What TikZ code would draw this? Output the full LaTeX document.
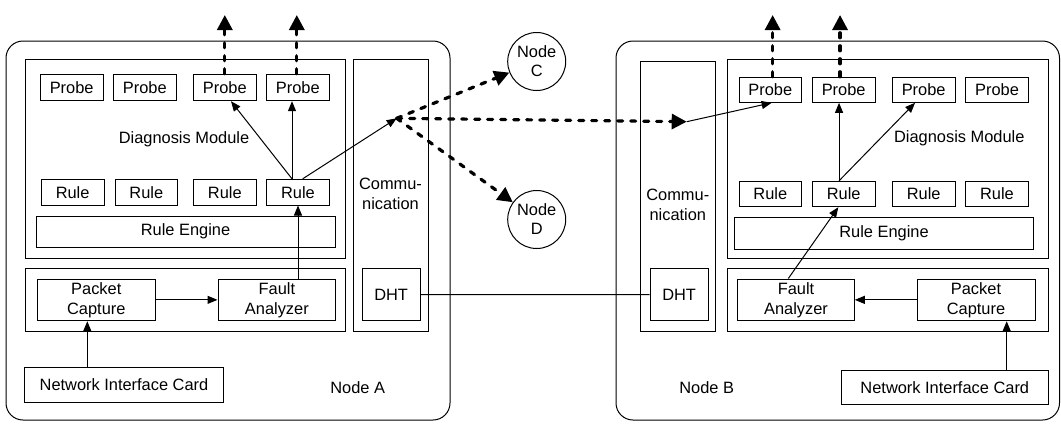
\documentclass[tikz,border=0pt]{standalone}
\usepackage{fontspec}
\setmainfont{Liberation Sans}
\usetikzlibrary{arrows.meta}
\newcommand\labelfont{\fontsize{16.4}{20}\selectfont}
\begin{document}
\begin{tikzpicture}[x=1pt,y=-1pt,
  box/.style={draw, line width=1pt, inner sep=0pt, align=center, font=\labelfont},
  host/.style={draw, line width=1pt, rounded corners=17pt, inner sep=0pt},
  peer/.style={draw, circle, line width=1pt, minimum size=58pt, inner sep=0pt,
               align=center, font=\labelfont},
  caption/.style={inner sep=0pt, font=\labelfont},
  flow/.style={line width=1pt, -{Triangle[length=10pt,width=8pt]}},
  wire/.style={line width=1pt},
  hop/.style={line width=3.2pt, dash pattern=on 5pt off 8pt, line cap=round,
              -{Triangle[length=15pt,width=15pt]}},
]
\fill[white] (0,0) rectangle (1061,424);
\useasboundingbox (0,0) rectangle (1061,424);

% ---------------- Node A ----------------
\node[host, minimum width=444pt, minimum height=379pt] (hostA) at (228,230.5) {};
\node[box, minimum width=320pt, minimum height=198.7pt] (diagA) at (185,158.65) {};
\node[caption] (dmA) at (184,139) {Diagnosis Module};
\node[box, minimum width=63pt, minimum height=26.4pt] (pA1) at (71.65,87.5) {Probe};
\node[box, minimum width=63pt, minimum height=26.4pt] (pA2) at (144.85,87.5) {Probe};
\node[box, minimum width=63pt, minimum height=26.4pt] (pA3) at (224.8,87.5) {Probe};
\node[box, minimum width=63pt, minimum height=26.4pt] (pA4) at (297.8,87.5) {Probe};
\node[box, minimum width=62.7pt, minimum height=25.7pt] (rA1) at (72.65,192.15) {Rule};
\node[box, minimum width=62.7pt, minimum height=25.7pt] (rA2) at (146.35,192.15) {Rule};
\node[box, minimum width=62.7pt, minimum height=25.7pt] (rA3) at (224.8,192.15) {Rule};
\node[box, minimum width=62.7pt, minimum height=25.7pt] (rA4) at (298,192.15) {Rule};
\node[box, minimum width=299pt, minimum height=31.3pt] (reA) at (185.5,231.65) {Rule Engine};
\node[box, minimum width=320pt, minimum height=62.3pt] (lowA) at (185,299.85) {};
\node[box, minimum width=118pt, minimum height=41.7pt] (pcA) at (96.3,299.85) {Packet\\Capture};
\node[box, minimum width=117.7pt, minimum height=41.7pt] (faA) at (276.85,299.85) {Fault\\Analyzer};
\node[box, minimum width=198.6pt, minimum height=34.6pt] (nicA) at (124,385) {Network Interface Card};
\node[box, minimum width=75pt, minimum height=271.7pt] (commA) at (390.8,195.15) {};
\node[caption, align=center] (commAtxt) at (390.5,194) {Commu-\\nication};
\node[box, minimum width=57.7pt, minimum height=52pt] (dhtA) at (391.15,294.7) {DHT};
\node[caption] (nameA) at (357.7,387.7) {Node A};

% ---------------- Node B ----------------
\node[host, minimum width=443.5pt, minimum height=379pt] (hostB) at (837.75,230.5) {};
\node[box, minimum width=75.3pt, minimum height=270pt] (commB) at (677.65,196) {};
\node[caption, align=center] (commBtxt) at (677.8,205) {Commu-\\nication};
\node[box, minimum width=58.3pt, minimum height=52.4pt] (dhtB) at (679.15,294.5) {DHT};
\node[box, minimum width=320.6pt, minimum height=199pt] (diagB) at (888,158.8) {};
\node[caption] (dmB) at (959.3,138.3) {Diagnosis Module};
\node[box, minimum width=62.7pt, minimum height=25pt] (pB1) at (770.35,89.8) {Probe};
\node[box, minimum width=62.7pt, minimum height=25pt] (pB2) at (843.65,89.8) {Probe};
\node[box, minimum width=62.7pt, minimum height=25pt] (pB3) at (923.65,89.8) {Probe};
\node[box, minimum width=62.7pt, minimum height=25pt] (pB4) at (997,89.8) {Probe};
\node[box, minimum width=62.7pt, minimum height=25.4pt] (rB1) at (770.35,194) {Rule};
\node[box, minimum width=62.7pt, minimum height=25.4pt] (rB2) at (843.65,194) {Rule};
\node[box, minimum width=62.7pt, minimum height=25.4pt] (rB3) at (923.65,194) {Rule};
\node[box, minimum width=62.7pt, minimum height=25.4pt] (rB4) at (997,194) {Rule};
\node[box, minimum width=298.6pt, minimum height=32pt] (reB) at (884,233.3) {Rule Engine};
\node[box, minimum width=320.6pt, minimum height=62.3pt] (lowB) at (888,299.85) {};
\node[box, minimum width=116.6pt, minimum height=41.7pt] (faB) at (796,299.85) {Fault\\Analyzer};
\node[box, minimum width=118pt, minimum height=41.7pt] (pcB) at (976,299.85) {Packet\\Capture};
\node[box, minimum width=207pt, minimum height=33.3pt] (nicB) at (944.8,387.35) {Network Interface Card};
\node[caption] (nameB) at (706.7,387.7) {Node B};

% ---------------- peers ----------------
\node[peer] (nC) at (536.7,61.5) {Node\\[-1pt]C};
\node[peer] (nD) at (536.7,219.5) {Node\\[-1pt]D};

% ---------------- routing points ----------------
\coordinate (hubA) at (396.7,118.3);
\coordinate (hubB) at (686.7,121.7);
\coordinate (upA3) at (pA3.north |- 0,15);
\coordinate (upA4) at ([xshift=-1pt]pA4.north |- 0,15);
\coordinate (upB1) at ([xshift=2.3pt]pB1.north |- 0,15);
\coordinate (upB2) at ([xshift=-3.6pt]pB2.north |- 0,15);
\coordinate (nicAx) at (87.3,0);
\coordinate (nicBx) at (1006.7,0);

% ---------------- connectors inside Node A ----------------
\draw[flow] (nicAx |- nicA.north) -- (nicAx |- pcA.south);
\draw[flow] (pcA) -- (faA);
\draw[flow] (faA.north -| rA4.south) -- (rA4.south);
\draw[flow] ([xshift=-6pt]rA4.north) -- ([xshift=6.2pt]pA3.south);
\draw[flow] ([xshift=-6pt]rA4.north) -- ([xshift=-5.8pt]pA4.south);
\draw[flow] ([xshift=4.7pt]rA4.north) -- (hubA);
\draw[wire] (dhtA) -- (dhtB);

% ---------------- connectors inside Node B ----------------
\draw[flow] (nicBx |- nicB.north) -- (nicBx |- pcB.south);
\draw[flow] (pcB) -- (faB);
\draw[flow] ([xshift=-7.7pt]faB.north) -- ([xshift=-5.3pt]rB2.south);
\draw[flow] ([xshift=-4.6pt]rB2.north) -- ([xshift=-4.6pt]pB2.south);
\draw[flow] ([xshift=-4.6pt]rB2.north) -- ([xshift=-8.6pt]pB3.south);
\draw[flow] (hubB) -- ([xshift=1.3pt]pB1.south);

% ---------------- overlay traffic ----------------
\draw[hop] (hubA) -- (nC);
\draw[hop] (hubA) -- (nD);
\draw[hop] (hubA) -- (hubB);
\draw[hop] (pA3.north) -- (upA3);
\draw[hop] ([xshift=-1pt]pA4.north) -- (upA4);
\draw[hop] ([xshift=2.3pt]pB1.north) -- (upB1);
\draw[hop] ([xshift=-3.6pt]pB2.north) -- (upB2);
\end{tikzpicture}
\end{document}
